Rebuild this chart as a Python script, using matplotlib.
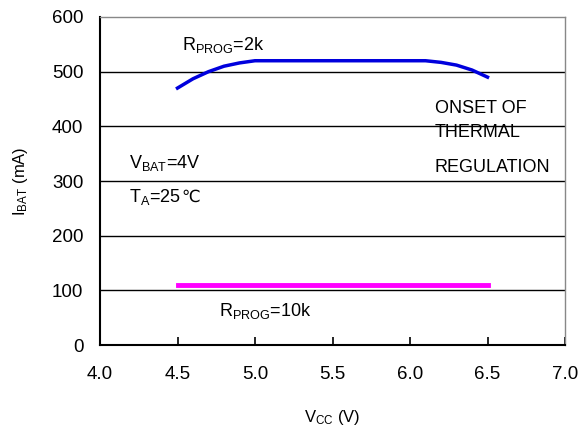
import matplotlib
matplotlib.use("Agg")
import matplotlib.pyplot as plt

plt.rcParams['font.family'] = ['Liberation Sans', 'DejaVu Sans']
plt.rcParams['mathtext.fontset'] = 'custom'
plt.rcParams['mathtext.rm'] = 'Liberation Sans'
plt.rcParams['mathtext.it'] = 'Liberation Sans'

# R_PROG = 2k curve
vcc_2k = [4.5, 4.6, 4.7, 4.8, 4.9, 5.0, 5.5, 6.0, 6.1, 6.2, 6.3, 6.4, 6.5]
ibat_2k = [470, 487, 500, 510, 516, 520, 520, 520, 520, 517, 512, 503, 490]

# R_PROG = 10k curve
vcc_10k = [4.5, 5.0, 5.5, 6.0, 6.5]
ibat_10k = [110, 110, 110, 110, 110]

xticks = [4.0, 4.5, 5.0, 5.5, 6.0, 6.5, 7.0]
yticks = [0, 100, 200, 300, 400, 500, 600]

fig = plt.figure(figsize=(5.87, 4.37), dpi=100)
ax = fig.add_axes([100 / 587, 92 / 437, 465 / 587, 328 / 437])

for y in yticks[1:-1]:
    ax.axhline(y, color='black', lw=1.0, zorder=1)

ax.plot(vcc_2k, ibat_2k, color='#0000dd', lw=2.5, zorder=3)
ax.plot(vcc_10k, ibat_10k, color='#ff00ff', lw=3.5, zorder=3)

ax.set_xlim(4.0, 7.0)
ax.set_ylim(0, 600)
ax.set_xticks(xticks)
ax.set_xticklabels([f"{v:.1f}" for v in xticks])
ax.set_yticks(yticks)
ax.tick_params(axis='x', direction='in', length=6, width=1.2, labelsize=13.5,
               pad=15, colors='black')
ax.tick_params(axis='y', length=0, labelsize=13.5, pad=12)

for s in ['left', 'bottom']:
    ax.spines[s].set_color('black')
    ax.spines[s].set_linewidth(1.5)
for s in ['top', 'right']:
    ax.spines[s].set_color('#888888')
    ax.spines[s].set_linewidth(1.0)

ax.set_xlabel(r'V$_{\mathrm{CC}}$ (V)', fontsize=12, labelpad=18)
ax.set_ylabel(r'I$_{\mathrm{BAT}}$ (mA)', fontsize=12, labelpad=16)

fs = 13
ax.text(4.53, 549, r'R$_{\mathrm{PROG}}$=2k', fontsize=fs, va='center')
ax.text(4.77, 62, r'R$_{\mathrm{PROG}}$=10k', fontsize=fs, va='center')
ax.text(4.19, 333, r'V$_{\mathrm{BAT}}$=4V', fontsize=fs, va='center')
ta = ax.text(4.19, 271, r'T$_{\mathrm{A}}$=25', fontsize=fs, va='center')
ax.annotate('\u2103', xy=(1, 0), xycoords=ta, xytext=(0, 1),
            textcoords='offset points', fontsize=fs - 1, va='bottom',
            family='DejaVu Sans')
ax.text(6.16, 433, 'ONSET OF', fontsize=fs, va='center')
ax.text(6.16, 388, 'THERMAL', fontsize=fs, va='center')
ax.text(6.16, 324, 'REGULATION', fontsize=fs, va='center')

fig.savefig('out.png', dpi=100)
